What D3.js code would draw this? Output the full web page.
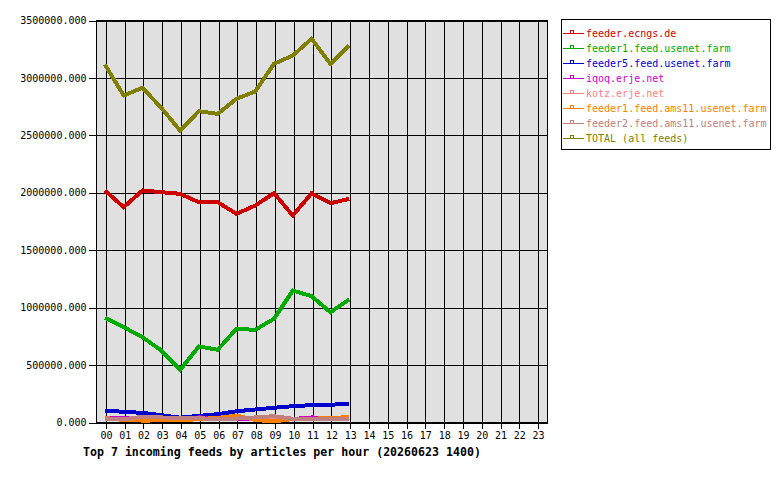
<!DOCTYPE html>
<html><head><meta charset="utf-8">
<script src="https://cdn.jsdelivr.net/npm/d3@7"></script>
<style>
body{margin:0;background:#fff;}
svg{display:block;}
text{font-family:"DejaVu Sans Mono","Liberation Mono",monospace;}
</style></head><body>
<svg id="c" width="780" height="480"></svg>
<script>
const hours = ["00","01","02","03","04","05","06","07","08","09","10","11","12","13","14","15","16","17","18","19","20","21","22","23"];
const yTicks = [0,500000,1000000,1500000,2000000,2500000,3000000,3500000];
const seriesNames = ["feeder.ecngs.de","feeder1.feed.usenet.farm","feeder5.feed.usenet.farm","iqoq.erje.net","kotz.erje.net","feeder1.feed.ams11.usenet.farm","feeder2.feed.ams11.usenet.farm","TOTAL (all feeds)"];
const seriesColors = ["#cc0000","#00aa00","#0000cc","#cc00cc","#ff8080","#ff8000","#c08080","#808000"];
const ecngs   = [2020000,1875000,2020000,2005000,1991000,1918000,1918000,1817000,1889000,1996000,1802000,1996000,1909000,1947000];
const usenet1 = [911000,830000,743000,627000,458000,662000,633000,815000,807000,903000,1149000,1100000,960000,1071000];
const usenet5 = [104000,93000,84000,64000,42000,58000,72000,98000,113000,128000,142000,151000,154000,165000];
const iqoq    = [40000,40000,32000,30000,30000,44000,40000,34000,30000,32000,30000,44000,40000,38000];
const kotz    = [30000,28000,36000,40000,32000,34000,30000,38000,34000,40000,32000,34000,36000,34000];
const ams1    = [40000,22000,17000,18000,18000,30000,40000,60000,22000,10000,30000,32000,40000,46000];
const ams2    = [30000,28000,50000,44000,38000,36000,32000,34000,44000,55000,32000,32000,32000,30000];
const total   = [3117000,2847000,2914000,2740000,2542000,2710000,2687000,2818000,2882000,3123000,3195000,3340000,3123000,3282000];
const seriesValues = [ecngs,usenet1,usenet5,iqoq,kotz,ams1,ams2,total];

const svg = d3.select("#c");
const L=96.5, R=547.5, T=20.5, B=422.5;
const x = d3.scalePoint().domain(hours).range([L,R]).padding(0.5);
const y = d3.scaleLinear().domain([0,3500000]).range([B,T]);

svg.append("rect").attr("x",L).attr("y",T).attr("width",R-L).attr("height",B-T).attr("fill","#e0e0e0");

// grids
const gy = svg.append("g").attr("transform",`translate(${L},0)`)
  .call(d3.axisLeft(y).tickValues(yTicks).tickSize(-(R-L)).tickFormat(""));
const gx = svg.append("g").attr("transform",`translate(0,${T})`)
  .call(d3.axisBottom(x).tickSize(B-T).tickFormat(""));
[gy,gx].forEach(g=>{g.select(".domain").remove();g.selectAll("line").attr("stroke","#000").attr("shape-rendering","crispEdges");});

// axes with labels
const ay = svg.append("g").attr("transform",`translate(${L},0)`)
  .call(d3.axisLeft(y).tickValues(yTicks).tickSize(8).tickPadding(2).tickFormat(d3.format(".3f")));
const ax = svg.append("g").attr("transform",`translate(0,${B})`)
  .call(d3.axisBottom(x).tickSize(6).tickPadding(3));
[ay,ax].forEach(g=>{
  g.select(".domain").remove();
  g.selectAll("line").attr("stroke","#000").attr("shape-rendering","crispEdges");
  g.selectAll("text").attr("fill","#000").style("font-family",'"DejaVu Sans Mono",monospace').style("font-size","10px");
});

svg.append("rect").attr("x",L).attr("y",T).attr("width",R-L).attr("height",B-T)
  .attr("fill","none").attr("stroke","#000").attr("shape-rendering","crispEdges");

// lines
const line = d3.line().x((d,i)=>x(hours[i])-1).y(d=>y(d));
seriesValues.forEach((vals,k)=>{
  svg.append("path").datum(vals).attr("d",line).attr("fill","none")
    .attr("stroke",seriesColors[k]).attr("stroke-width",4)
    .attr("stroke-linejoin","miter").attr("shape-rendering","crispEdges");
});

// title
svg.append("text").attr("x",83).attr("y",456).attr("font-weight","bold").style("font-size","11.6px")
  .attr("fill","#000").text("Top 7 incoming feeds by articles per hour (20260623 1400)");

// legend
const lg = svg.append("g");
lg.append("rect").attr("x",561.5).attr("y",19.5).attr("width",209).attr("height",130)
  .attr("fill","#fff").attr("stroke","#000").attr("shape-rendering","crispEdges");
seriesNames.forEach((n,k)=>{
  const yy = 32.5 + k*15.06;
  const g = lg.append("g").attr("transform",`translate(0,${Math.round(yy)})`);
  g.append("line").attr("x1",563).attr("x2",584).attr("y1",0.5).attr("y2",0.5)
    .attr("stroke",seriesColors[k]).attr("shape-rendering","crispEdges");
  g.append("rect").attr("x",570.5).attr("y",-2.5).attr("width",3).attr("height",3)
    .attr("fill","none").attr("stroke",seriesColors[k]).attr("shape-rendering","crispEdges");
  g.append("text").attr("x",586).attr("y",4).style("font-size","10px")
    .attr("fill",seriesColors[k]).text(n);
});
</script></body></html>
